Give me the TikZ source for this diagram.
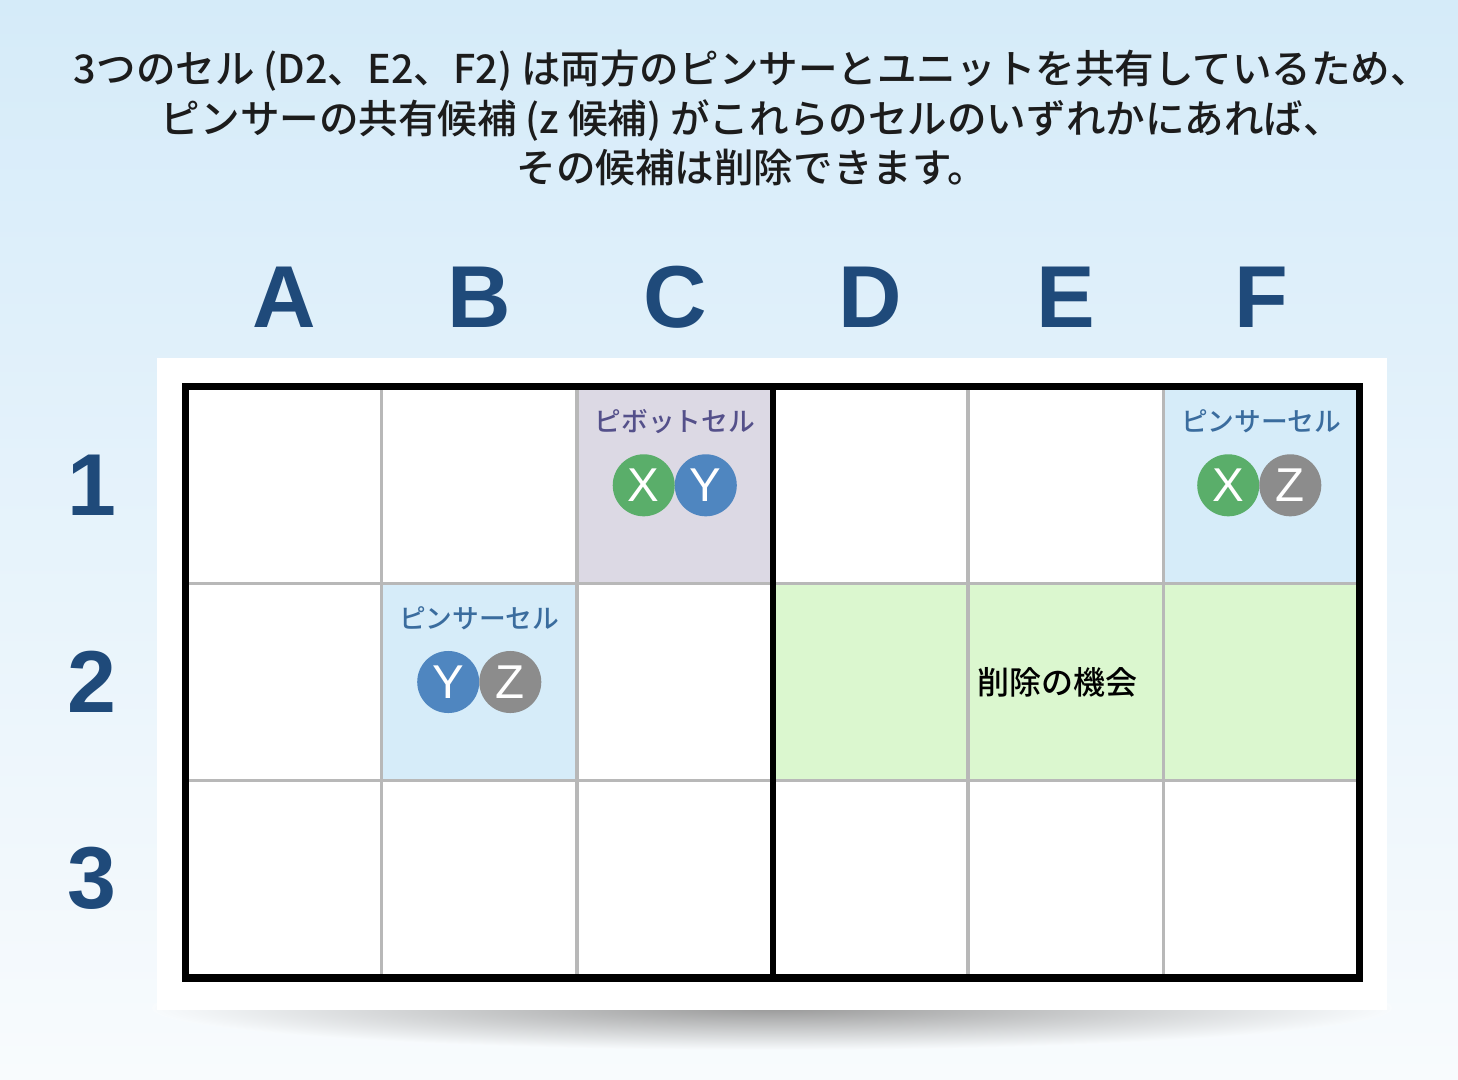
\documentclass[tikz,border=0pt]{standalone}
\usepackage{fontspec}
\setmainfont{Liberation Sans}
\newfontfamily\jpfont{Noto Sans CJK JP Medium}
\usetikzlibrary{fadings}

\definecolor{bgtop}{HTML}{D5EBF9}
\definecolor{bgbot}{HTML}{F8FBFD}
\definecolor{titletext}{HTML}{1C1C1C}
\definecolor{hdrblue}{HTML}{1F4A7A}
\definecolor{gridgray}{HTML}{B8B8B8}
\definecolor{pivotfill}{HTML}{DCD9E4}
\definecolor{pivottext}{HTML}{54508A}
\definecolor{pincerfill}{HTML}{D6ECF9}
\definecolor{pincertext}{HTML}{3A6C9E}
\definecolor{elimfill}{HTML}{DBF7CF}
\definecolor{candx}{HTML}{5AAE6A}
\definecolor{candy}{HTML}{4F86C0}
\definecolor{candz}{HTML}{8C8C8C}

\begin{document}
\begin{tikzpicture}[x=0.01cm,y=-0.01cm,
  header/.style={text=hdrblue,font=\fontsize{25}{30}\selectfont\bfseries},
  cellbox/.style={minimum width=1.955cm,minimum height=1.967cm,inner sep=0pt},
  gridline/.style={draw=gridgray,line width=0.6pt},
  celllabel/.style={font=\jpfont\fontsize{7.6}{9}\selectfont},
  cand/.style={circle,minimum size=0.62cm,inner sep=0pt,text=white,font=\fontsize{13.5}{16}\selectfont}]

\useasboundingbox (0,0) rectangle (1458,1079);
\shade[top color=bgtop,bottom color=bgbot] (0,0) rectangle (1458,1079);

% title
\node[font=\jpfont\fontsize{11.25}{14.2}\selectfont,align=center,text=titletext] (title) at (752,118)
  {3つのセル (D2、E2、F2) は両方のピンサーとユニットを共有しているため、\\
   ピンサーの共有候補 (z 候補) がこれらのセルのいずれかにあれば、\\
   その候補は削除できます。};

% board panel
\shade[inner color=black!40,outer color=bgbot] (772,1008) ellipse [x radius=6.2cm,y radius=0.42cm];
\fill[white] (157,358) rectangle (1387,1010);

\foreach \col [count=\ci from 0] in {A,B,C,D,E,F}
  \foreach \row [count=\ri from 0] in {1,2,3}
    \node[cellbox] (\col\row) at ({283.75+195.5*\ci},{485.3+196.7*\ri}) {};

\foreach \c/\f in {C1/pivotfill,F1/pincerfill,B2/pincerfill,D2/elimfill,E2/elimfill,F2/elimfill}
  \fill[\f] (\c.north west) rectangle (\c.south east);

\foreach \col in {A,B,C,D,E,F}
  \foreach \row in {1,2,3}
    \draw[gridline] (\col\row.north west) rectangle (\col\row.south east);

\draw[line width=2.1pt] (A1.north west) rectangle (F3.south east);
\draw[line width=1.8pt] (C1.north east) -- (C3.south east);

% headers
\foreach \col in {A,B,C,D,E,F}
  \node[header] (head\col) at ([yshift=1.88cm]\col1.center) {\col};
\foreach \row in {1,2,3}
  \node[header] (rowlbl\row) at ([xshift=-1.92cm]A\row.center) {\row};

% pivot cell
\node[celllabel,text=pivottext] (pivotlbl) at ([yshift=0.64cm]C1.center) {ピボットセル};
\node[cand,fill=candx] (C1x) at ([xshift=-0.31cm]C1.center) {X};
\node[cand,fill=candy] (C1y) at ([xshift=0.31cm]C1.center) {Y};

% pincer cells
\node[celllabel,text=pincertext] (pincerlblA) at ([yshift=0.64cm]B2.center) {ピンサーセル};
\node[cand,fill=candy] (B2y) at ([xshift=-0.31cm]B2.center) {Y};
\node[cand,fill=candz] (B2z) at ([xshift=0.31cm]B2.center) {Z};

\node[celllabel,text=pincertext] (pincerlblB) at ([yshift=0.64cm]F1.center) {ピンサーセル};
\node[cand,fill=candx] (F1x) at ([xshift=-0.33cm]F1.center) {X};
\node[cand,fill=candz] (F1z) at ([xshift=0.29cm]F1.center) {Z};

% elimination
\node[font=\jpfont\fontsize{9.1}{11}\selectfont] (elimlbl) at ([xshift=-0.08cm]E2.center) {削除の機会};
\end{tikzpicture}
\end{document}
